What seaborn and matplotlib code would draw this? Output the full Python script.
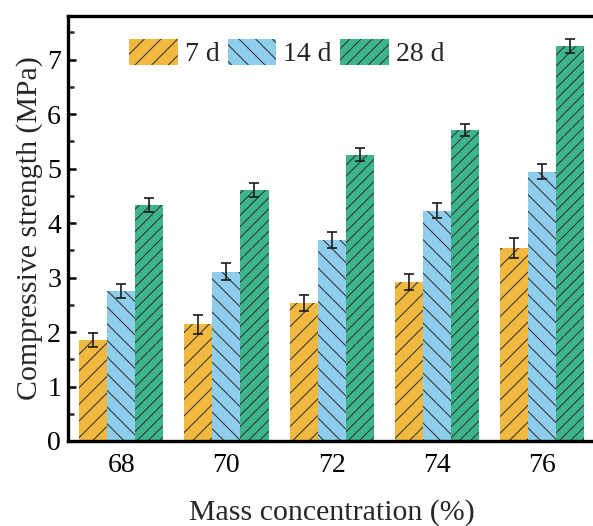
import numpy as np
import pandas as pd
import matplotlib
matplotlib.use("Agg")
import matplotlib.pyplot as plt
from matplotlib.patches import Patch
from matplotlib.ticker import MultipleLocator
import seaborn as sns

concentrations = ["68", "70", "72", "74", "76"]
ages = ["7 d", "14 d", "28 d"]
strength_7d = [1.85, 2.14, 2.53, 2.92, 3.54]
strength_14d = [2.76, 3.11, 3.69, 4.23, 4.94]
strength_28d = [4.33, 4.61, 5.25, 5.71, 7.25]
err_7d = [0.13, 0.17, 0.15, 0.15, 0.18]
err_14d = [0.13, 0.16, 0.14, 0.14, 0.14]
err_28d = [0.13, 0.13, 0.12, 0.11, 0.13]

colors = ["#F1B940", "#8ECDEB", "#3DB58B"]
hatches = ["//", "\\\\", "///"]

df = pd.DataFrame({
    "conc": concentrations * 3,
    "age": [a for a in ages for _ in concentrations],
    "strength": strength_7d + strength_14d + strength_28d,
    "err": err_7d + err_14d + err_28d,
})

sns.set_style("ticks")
plt.rcParams["font.family"] = ["Liberation Serif", "DejaVu Serif"]
plt.rcParams["hatch.linewidth"] = 0.75

fig = plt.figure(figsize=(5.93, 5.26), dpi=100)
ax = fig.add_axes([68 / 593, 1 - 441 / 526, 527 / 593, (441 - 16) / 526])

sns.barplot(data=df, x="conc", y="strength", hue="age", order=concentrations,
            hue_order=ages, palette=colors, errorbar=None, width=0.8,
            saturation=1, linewidth=0, edgecolor="#333333", legend=False, ax=ax)

errs = [err_7d, err_14d, err_28d]
for container, hatch, err in zip(ax.containers, hatches, errs):
    xs, ys = [], []
    for bar in container:
        bar.set_hatch(hatch)
        bar.set_edgecolor("#333333")
        bar.set_linewidth(0)
        xs.append(bar.get_x() + bar.get_width() / 2)
        ys.append(bar.get_height())
    ax.errorbar(xs, ys, yerr=err, fmt="none", ecolor="#1a1a1a",
                elinewidth=1.2, capsize=3.6, capthick=1.2, zorder=5)

ax.set_xlim(-0.504, 4.50)
ax.set_ylim(0, 7.8)
ax.yaxis.set_major_locator(MultipleLocator(1))
ax.yaxis.set_minor_locator(MultipleLocator(0.5))
ax.tick_params(axis="y", which="major", direction="in", length=6, width=1.8,
               labelsize=20, pad=5, colors="black")
ax.tick_params(axis="y", which="minor", direction="in", length=4, width=1.8)
ax.tick_params(axis="x", length=0, labelsize=20, pad=9, colors="black")

for side in ["left", "bottom", "top"]:
    ax.spines[side].set_linewidth(2.4)
    ax.spines[side].set_color("black")
ax.spines["right"].set_visible(False)

ax.set_xlabel("Mass concentration (%)", fontsize=21.5, labelpad=15)
ax.set_ylabel("Compressive strength (MPa)", fontsize=21.5, labelpad=3)

handles = [Patch(facecolor=c, edgecolor="#333333", hatch=h, linewidth=0, label=a)
           for c, h, a in zip(colors, hatches, ages)]
ax.legend(handles=handles, loc="center left",
          bbox_to_anchor=((129 - 68) / 527, (441 - 53) / 425),
          ncol=3, frameon=False, fontsize=20, borderpad=0, borderaxespad=0,
          handlelength=1.75, handleheight=1.1, handletextpad=0.25,
          columnspacing=0.3)

fig.savefig("out.png", dpi=100)
